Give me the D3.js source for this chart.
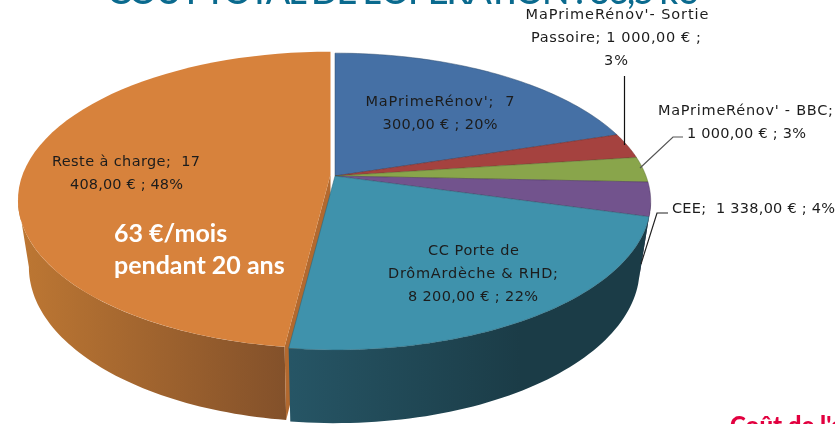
<!DOCTYPE html>
<html><head><meta charset="utf-8">
<script src="https://cdn.jsdelivr.net/npm/d3@7/dist/d3.min.js"></script>
<style>html,body{margin:0;padding:0;background:#fff;overflow:hidden}svg{display:block;filter:blur(0.35px)}</style>
</head><body><svg id="c" width="835" height="424"></svg>
<script>
const categories = ["MaPrimeRénov'", "MaPrimeRénov'- Sortie Passoire", "MaPrimeRénov' - BBC", "CEE", "CC Porte de DrômArdèche & RHD", "Reste à charge"];
const values = [7300, 1000, 1000, 1338, 8200, 17408];
const topColors = ["#4570a5", "#a5423f", "#89a54b", "#72538d", "#3f92ac", "#d7823c"];
const dataLabels = [
  ["MaPrimeRénov';  7", "300,00 € ; 20%"],
  ["MaPrimeRénov'- Sortie", "Passoire; 1 000,00 € ;", "3%"],
  ["MaPrimeRénov' - BBC;", "1 000,00 € ; 3%"],
  ["CEE;  1 338,00 € ; 4%"],
  ["CC Porte de", "DrômArdèche & RHD;", "8 200,00 € ; 22%"],
  ["Reste à charge;  17", "408,00 € ; 48%"]
];
const titleText = "COÛT TOTAL DE L'OPERATION : 36,5 k€";
const noteLines = ["63 €/mois", "pendant 20 ans"];
const cornerText = "Coût de l'opération";

// layout
const labelAnchors = [[[440,106],[440,129]],[[617,19],[616,42],[616,65]],[[745.5,115],[746.5,138]],[[753.5,213]],[[473.5,254.5],[473,278],[473,301]],[[126,166],[126.5,189]]];
const labelWidths = [[149,115],[183,170,24],[175,119],[163],[91,170,130],[148,113]];
const A = 311, B = 144, K = 0.172, cx = 335, cy = 176, depthShift = 66, depthScale = 0.965, depthB = 150;
const svg = d3.select("#c");
const defs = svg.append("defs");

const pieGen = d3.pie().sort(null).value(d => d).startAngle(0).endAngle(2*Math.PI);
const arcs = pieGen(values);

// perspective projection of the disc
function proj(theta, r, lower, i) {
  const o = i === 5 ? [-4.5,-1.5] : [0,0];
  const ax = i === 5 ? 0.99 : 1;
  const s = Math.sin(theta)*r, c = Math.cos(theta)*r, w = 1 + K*c;
  const sc = lower ? depthScale : 1;
  return [cx + o[0] + ax*sc*A*s/w, cy + o[1] + (lower?depthShift:0) - (lower?depthB:B)*c/w];
}
const line = d3.line();
const sample = (a0,a1) => d3.range(0,61).map(k => a0 + (a1-a0)*k/60);

// rim is visible only between the two silhouette angles of the projected disc
const rimFrom = Math.acos(-K), rimTo = 2*Math.PI - rimFrom;

function grad(id, x1, x2, c1, c2){
  const g = defs.append("linearGradient").attr("id",id).attr("gradientUnits","userSpaceOnUse")
    .attr("x1",x1).attr("x2",x2).attr("y1",0).attr("y2",0);
  g.append("stop").attr("offset",0).attr("stop-color",c1);
  g.append("stop").attr("offset",1).attr("stop-color",c2);
}
grad("rim5",20,290,"#bd7733","#82502a");
grad("rim4",290,520,"#265565","#1b3c47");
const rimFill = ["#2b4263","#632826","#52632d","#443254","url(#rim4)","url(#rim5)"];

function rimPath(i){
  const a = arcs[i];
  const t0 = Math.max(a.startAngle,rimFrom), t1 = Math.min(a.endAngle,rimTo);
  if (t1 <= t0) return null;
  const ts = sample(t0,t1);
  return line(ts.map(t=>proj(t,1,false,i)).concat(ts.map(t=>proj(t,1,true,i)).reverse()))+"Z";
}
const rimLayer = svg.append("g");
// orange block first, with its cut wall, then the teal rim in front of it
rimLayer.append("path").attr("d",rimPath(5)).attr("fill",rimFill[5]);
{
  const t = arcs[5].startAngle;
  const p = [proj(t,0,false,5), proj(t,1,false,5), proj(t,1,true,5), proj(t,0,true,5)];
  rimLayer.append("path").attr("d", line(p)+"Z").attr("fill","#b2692f");
}
[3,4].forEach(i => rimLayer.append("path").attr("d",rimPath(i)).attr("fill",rimFill[i]));

// top faces
svg.append("g").selectAll("path").data(arcs).join("path")
  .attr("d",(a,i)=> line([proj(0,0,false,i)].concat(sample(a.startAngle,a.endAngle).map(t=>proj(t,1,false,i))))+"Z")
  .attr("fill",(a,i)=>topColors[i])
  .attr("stroke",(a,i)=> i===5 ? "none" : d3.color(topColors[i]).darker(1.1))
  .attr("stroke-width",0.5);

// leader lines
const leaders = [
  {pts:[[624.5,76],[624.5,145]], c:"#111"},
  {pts:[[683,137],[673,137],[640,168]], c:"#555"},
  {pts:[[668,213],[657,213],[641,264]], c:"#222"}
];
svg.append("g").selectAll("path").data(leaders).join("path")
  .attr("d",d=>line(d.pts)).attr("fill","none").attr("stroke",d=>d.c).attr("stroke-width",1.2);

// data labels
const lab = svg.append("g").attr("font-family","'DejaVu Sans',sans-serif").attr("font-size",14.5).attr("fill","#1c1c1c");
dataLabels.forEach((lines,i)=>{
  lines.forEach((t,j)=>{
    lab.append("text").attr("text-anchor","middle").attr("xml:space","preserve")
      .attr("x", labelAnchors[i][j][0]).attr("y", labelAnchors[i][j][1])
      .attr("textLength", labelWidths[i][j]).attr("lengthAdjust","spacing")
      .text(t);
  });
});

// note
noteLines.forEach((t,j)=>svg.append("text").attr("x",114).attr("y",242+j*32)
  .attr("font-family","Lato,sans-serif").attr("font-weight",700).attr("font-size",25).attr("fill","#fff").text(t));

// clipped title and corner text
svg.append("text").attr("x",107).attr("y",4).attr("font-family","Lato,sans-serif").attr("font-weight",500)
  .attr("font-size",36).attr("fill","#0a6a8e").attr("textLength",590).attr("lengthAdjust","spacing").text(titleText);
svg.append("text").attr("x",730).attr("y",434).attr("font-family","Lato,sans-serif").attr("font-weight",900)
  .attr("font-size",24).attr("fill","#e2003f").text(cornerText);
</script></body></html>
